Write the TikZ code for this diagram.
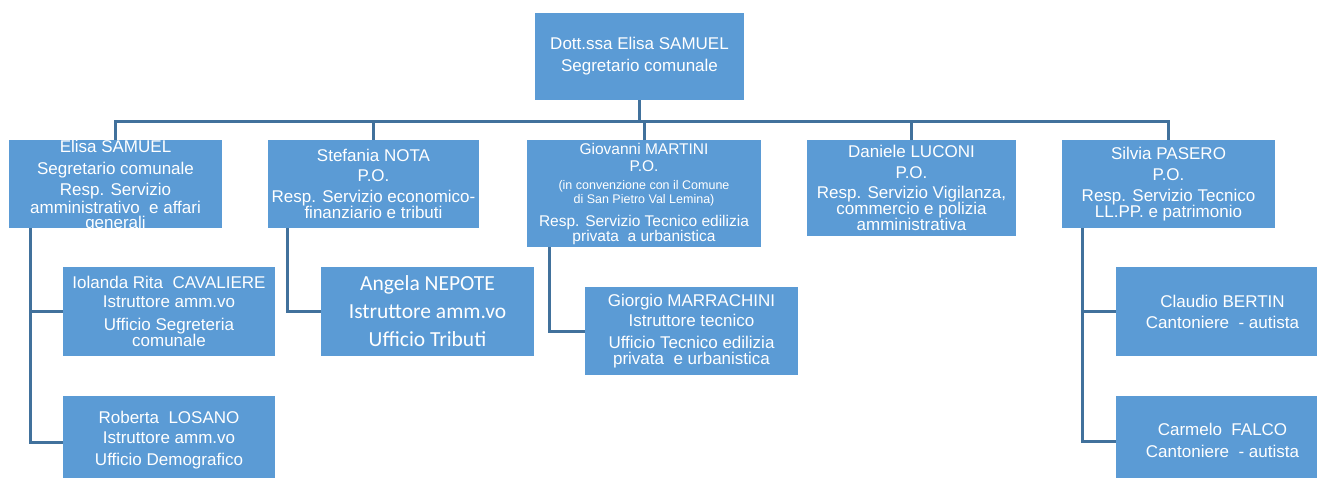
\documentclass[tikz,border=0pt]{standalone}
\usepackage{fontspec}
\setmainfont{Liberation Sans}
\newfontfamily\carlito{Carlito}
\usepackage{tikz}
\usetikzlibrary{calc}
\definecolor{boxblue}{HTML}{5B9BD5}
\definecolor{lineblue}{HTML}{41719C}
\newcommand{\smalltxt}{\fontsize{12.5}{14}\selectfont}

\begin{document}
\begin{tikzpicture}[x=1pt, y=-1pt,
    box/.style={fill=boxblue, text=white, inner sep=0pt, align=center, font=\fontsize{17}{16}\selectfont},
    boxtext/.style={text=white, inner sep=0pt, align=center, font=\fontsize{17}{16}\selectfont},
    link/.style={draw=lineblue, line width=3pt}]

        \useasboundingbox (0,0) rectangle (1317,478);

        \coordinate (bus) at (0,122);

        \node[box, minimum width=209, minimum height=87] (capo) at (639.5,56.5) {Dott.ssa Elisa SAMUEL\\[6pt]Segretario comunale};

        \node[box, minimum width=213, minimum height=88] (seg) at (115.5,184) {};
        \node[boxtext] (segtext) at (115.5,186.5) {Elisa SAMUEL\\[6pt]Segretario comunale\\[5pt]Resp. Servizio\\[2pt]amministrativo~ e affari\\[-1pt]generali};

        \node[box, minimum width=211, minimum height=88] (nota) at (373.5,184) {Stefania NOTA\\[4pt]P.O.\\[5pt]Resp. Servizio economico-\\finanziario e tributi};

        \node[box, minimum width=234, minimum height=107, font=\fontsize{15.5}{17}\selectfont] (martini) at (644,193.5) {Giovanni MARTINI\\P.O.\\[1pt]{\smalltxt(in convenzione con il Comune}\\[-3pt]{\smalltxt di San Pietro Val Lemina)}\\[6pt]Resp. Servizio Tecnico edilizia\\[-2pt]privata~ a urbanistica};

        \node[box, minimum width=209, minimum height=96] (luconi) at (911.5,188) {Daniele LUCONI\\[5pt]P.O.\\[4pt]Resp. Servizio Vigilanza,\\commercio e polizia\\amministrativa};

        \node[box, minimum width=213, minimum height=88] (pasero) at (1168.5,184) {Silvia PASERO\\[5pt]P.O.\\[5pt]Resp. Servizio Tecnico\\LL.PP. e patrimonio};

        \node[box, minimum width=212, minimum height=89] (cav) at (169,311.5) {Iolanda Rita~ CAVALIERE\\[3pt]Istruttore amm.vo\\[7pt]Ufficio Segreteria\\comunale};

        \node[box, minimum width=212, minimum height=88] (losano) at (169,440) {Roberta~ LOSANO\\[4pt]Istruttore amm.vo\\[6pt]Ufficio Demografico};

        \node[box, minimum width=213, minimum height=89, font=\carlito\fontsize{21.5}{28}\selectfont] (nepote) at (427.5,311.5) {Angela NEPOTE\\Istruttore amm.vo\\Ufficio Tributi};

        \node[box, minimum width=213, minimum height=88] (marra) at (691.5,331) {Giorgio MARRACHINI\\[4pt]Istruttore tecnico\\[6pt]Ufficio Tecnico edilizia\\privata~ e urbanistica};

        \node[box, minimum width=213, minimum height=89] (bertin) at (1222.5,311.5) {Claudio BERTIN\\[5pt]Cantoniere~ - autista};

        \node[box, minimum width=213, minimum height=88] (falco) at (1222.5,440) {Carmelo~ FALCO\\[6pt]Cantoniere~ - autista};

        \draw[link] (seg.north) -- (seg.north |- bus) -- (pasero.north |- bus) -- (pasero.north);
        \foreach \n in {capo.south, nota.north, martini.north, luconi.north}
            \draw[link] (\n) -- (\n |- bus);

        \draw[link] ([xshift=22pt]seg.south west) |- (cav.west);
        \draw[link] ([xshift=22pt]seg.south west) |- ([yshift=-2pt]losano.west);
        \draw[link] ([xshift=20pt]nota.south west) |- (nepote.west);
        \draw[link] ([xshift=23pt]martini.south west) |- (marra.west);
        \draw[link] ([xshift=21pt]pasero.south west) |- (bertin.west);
        \draw[link] ([xshift=21pt]pasero.south west) |- ([yshift=-1pt]falco.west);

\end{tikzpicture}
\end{document}
